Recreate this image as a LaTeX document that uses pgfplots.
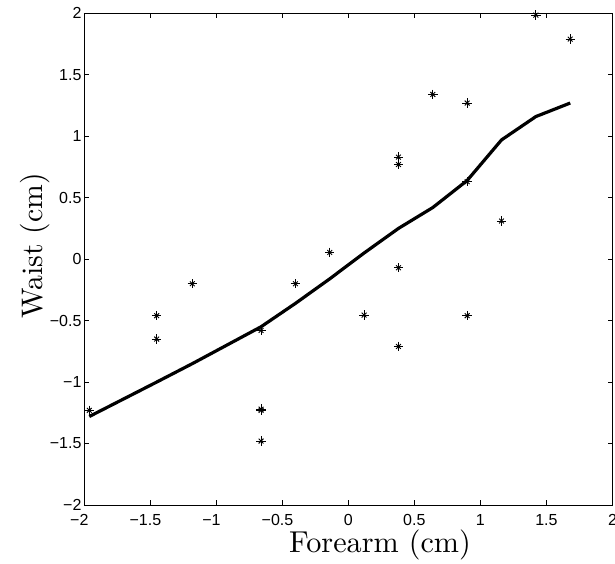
\documentclass[border=0pt]{standalone}
\usepackage{fontspec}
\usepackage{graphicx}
\usepackage{pgfplots}
\pgfplotsset{compat=1.18}
\newfontfamily\arialf{Liberation Sans}
\begin{document}
\begin{tikzpicture}
\begin{axis}[
  scale only axis,
  width=528.5pt, height=491.7pt,
  xmin=-2, xmax=2, ymin=-2, ymax=2,
  xtick={-2,-1.5,...,2}, ytick={-2,-1.5,...,2},
  xticklabels={\llap{−}2,\llap{−}1.5,\llap{−}1,\llap{−}0.5,0,0.5,1,1.5,2},
  yticklabels={−2,−1.5,−1,−0.5,0,0.5,1,1.5,2},
  tick label style={font=\arialf\fontsize{16}{16}\selectfont},
  xticklabel style={yshift=-6pt},
  yticklabel style={xshift=1pt},
  tick align=inside, major tick length=5pt,
  axis line style={line width=0.9pt},
  every tick/.style={line width=0.8pt, black},
  xlabel={\scalebox{3.02}{Forearm (cm)}},
  ylabel={\scalebox{2.97}{Waist (cm)}},
  xlabel style={at={([yshift=-47pt]axis description cs:0.56,0)}, anchor=base},
  ylabel style={at={([xshift=-41pt]axis description cs:0,0.527)}, anchor=base},
  clip=false,
]
\coordinate (bl) at (rel axis cs:0,0);
\coordinate (tr) at (rel axis cs:1,1);
\addplot[black, line width=3.2pt, line join=round] coordinates {
(-1.96,-1.28) (-1.45,-1.00) (-1.18,-0.85) (-0.66,-0.55) (-0.40,-0.36)
(-0.14,-0.16) (0.12,0.05) (0.38,0.25) (0.64,0.42) (0.90,0.64)
(1.16,0.97) (1.42,1.16) (1.68,1.27)};
\pgfplotstableread{
x y
-1.96 -1.23
-1.45 -0.46
-1.45 -0.65
-1.18 -0.20
-0.66 -0.58
-0.66 -1.22
-0.66 -1.23
-0.66 -1.48
-0.40 -0.20
-0.14 0.055
0.12 -0.455
0.38 0.83
0.38 0.77
0.38 -0.07
0.38 -0.71
0.64 1.34
0.90 1.27
0.90 0.63
0.90 -0.46
1.16 0.31
1.42 1.985
1.68 1.79
}\pts
\addplot[only marks, black, mark=+, mark size=4.7pt, mark options={line width=0.9pt}] table {\pts};
\addplot[only marks, black, mark=x, mark size=3.4pt, mark options={line width=0.9pt}] table {\pts};
\end{axis}
\pgfresetboundingbox
\path[use as bounding box] ([shift={(-84pt,-58pt)}]bl) rectangle ([shift={(2.5pt,13.3pt)}]tr);
\end{tikzpicture}
\end{document}
